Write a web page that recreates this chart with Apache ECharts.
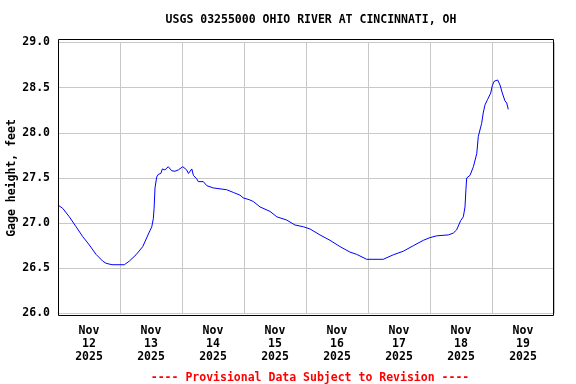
<!DOCTYPE html>
<html>
<head>
<meta charset="utf-8">
<script src="https://cdn.jsdelivr.net/npm/echarts@6/dist/echarts.min.js"></script>
<style>
html,body{margin:0;padding:0;background:#fff;}
#c{width:576px;height:384px;}
</style>
</head>
<body>
<div id="c"></div>
<script>
// Day labels (each category spans one day, Nov 12 00:00 .. Nov 20 00:00)
const dayLabels = ['Nov\n12\n2025','Nov\n13\n2025','Nov\n14\n2025','Nov\n15\n2025','Nov\n16\n2025','Nov\n17\n2025','Nov\n18\n2025','Nov\n19\n2025'];
// Hours since Nov 12 2025 00:00
const hoursFromStart = [0,1.8,4.4,7.0,9.6,12.1,14.7,17.3,18.6,20.9,25.7,27.6,30.2,32.8,35.0,36.3,36.9,37.2,37.55,38.2,38.8,39.8,40.4,41.4,42.7,44.0,45.3,46.6,48.3,49.8,50.5,51.8,52.4,53.7,54.3,56.25,57.6,60.1,62.7,65.3,67.9,70.45,71.7,74.0,75.6,78.2,82.1,84.7,88.5,91.7,95.0,97.6,101.4,105.3,109.2,113.0,115.6,119.5,125.9,129.8,133.7,137.5,141.4,144.0,146.6,151.1,153.0,154.3,155.0,155.9,156.9,157.55,157.9,158.2,159.5,160.8,162.1,162.7,164.0,164.6,165.3,166.3,167.5,168.1,168.8,169.55,170.2,171.1,172.0,173.0,173.7,174.3];
// Gage height, feet
const gageHeight = [27.20,27.165,27.07,26.96,26.85,26.76,26.655,26.58,26.556,26.54,26.54,26.58,26.65,26.74,26.88,26.96,27.05,27.165,27.39,27.51,27.54,27.55,27.60,27.59,27.625,27.58,27.575,27.59,27.625,27.59,27.55,27.60,27.53,27.49,27.46,27.46,27.415,27.39,27.38,27.37,27.34,27.31,27.28,27.26,27.24,27.18,27.13,27.07,27.035,26.98,26.96,26.935,26.87,26.81,26.74,26.68,26.655,26.60,26.60,26.65,26.69,26.75,26.81,26.84,26.86,26.87,26.89,26.925,26.945,27.03,27.07,27.18,27.37,27.50,27.53,27.625,27.77,27.96,28.105,28.22,28.31,28.37,28.44,28.52,28.57,28.555,28.585,28.53,28.44,28.355,28.33,28.26];
const yMin = 26.0, yMax = 29.0, yStep = 0.5;

const font = 'DejaVu Sans Mono';
const chart = echarts.init(document.getElementById('c'), null, {renderer:'canvas'});
const seriesData = hoursFromStart.map((h,i)=>[h, gageHeight[i]]);

chart.setOption({
  animation:false,
  backgroundColor:'#ffffff',
  title:[
    {text:'USGS 03255000 OHIO RIVER AT CINCINNATI, OH', left:306, top:9, textAlign:'center',
     textStyle:{fontFamily:font, fontWeight:'bold', fontSize:11.5, color:'#000'}},
    {text:'---- Provisional Data Subject to Revision ----', left:305, top:367, textAlign:'center',
     textStyle:{fontFamily:font, fontWeight:'bold', fontSize:11.5, color:'#ff0000'}}
  ],
  grid:{left:58, right:22, top:42.5, bottom:70.5, containLabel:false, outerBoundsMode:'none'},
  xAxis:[
    {type:'category', data:dayLabels, boundaryGap:true, gridIndex:0,
     axisLine:{show:false}, axisTick:{show:false},
     splitLine:{show:true, lineStyle:{color:'#c8c8c8', width:1}},
     axisLabel:{fontFamily:font, fontWeight:'bold', fontSize:11.5, color:'#000', lineHeight:13, margin:11, interval:0}},
    {type:'value', min:0, max:192, show:false, gridIndex:0}
  ],
  yAxis:{type:'value', min:yMin, max:yMax, interval:yStep,
    name:'Gage height, feet', nameLocation:'middle', nameRotate:90, nameGap:40, nameMoveOverlap:false,
    nameTextStyle:{fontFamily:font, fontWeight:'bold', fontSize:11.5, color:'#000'},
    axisLine:{show:false}, axisTick:{show:false},
    splitLine:{show:true, lineStyle:{color:'#c8c8c8', width:1}},
    axisLabel:{fontFamily:font, fontWeight:'bold', fontSize:11.5, color:'#000', margin:8,
      formatter:v=>v.toFixed(1)}},
  graphic:[
    {type:'rect', shape:{x:58.5, y:39.5, width:495, height:276}, z:100,
     style:{fill:'none', stroke:'#000', lineWidth:1}}
  ],
  series:[{type:'line', xAxisIndex:1, data:seriesData, showSymbol:false, symbol:'none',
    lineStyle:{color:'#0000ff', width:1}, z:10}]
});
</script>
</body>
</html>
